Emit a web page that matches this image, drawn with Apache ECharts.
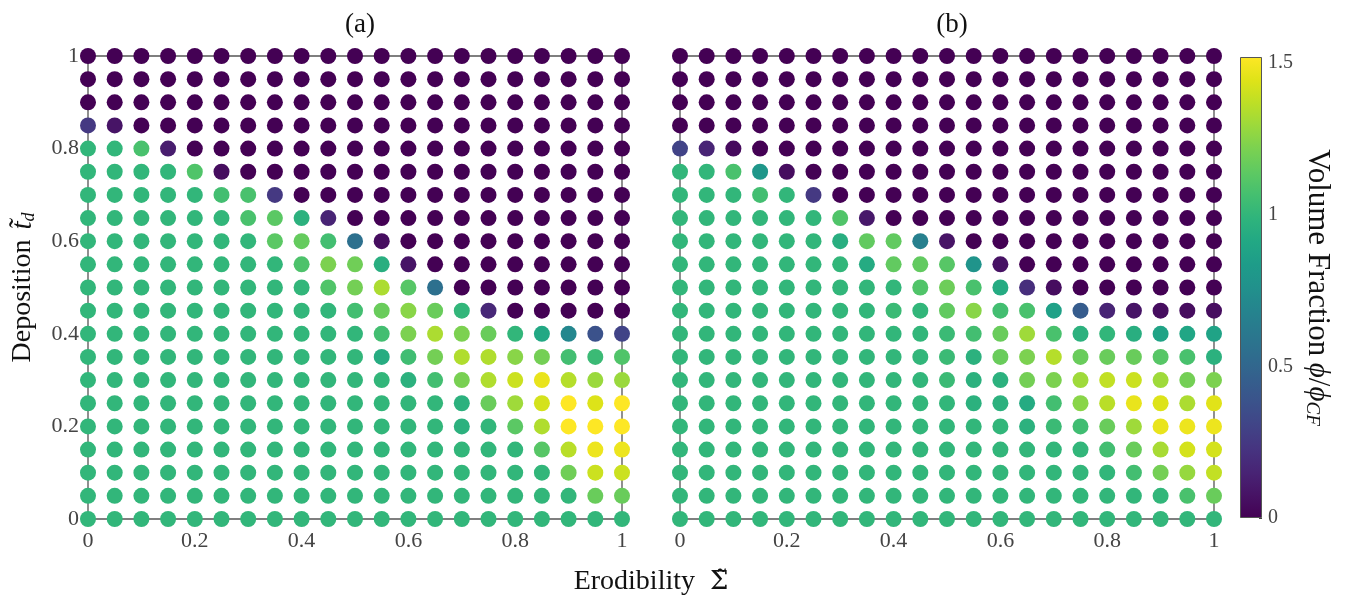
<!DOCTYPE html>
<html>
<head>
<meta charset="utf-8">
<title>Volume fraction maps</title>
<script src="https://cdn.jsdelivr.net/npm/echarts@6/dist/echarts.min.js"></script>
<style>
  html, body { margin: 0; background: #fff; }
  #chart { width: 1345px; height: 595px; }
</style>
</head>
<body>
<div id="chart"></div>
<script>
// grid points (same for both panels); rows of the matrices go from t=1 down to t=0
const erodibility = [0, 0.05, 0.1, 0.15, 0.2, 0.25, 0.3, 0.35, 0.4, 0.45, 0.5,
                     0.55, 0.6, 0.65, 0.7, 0.75, 0.8, 0.85, 0.9, 0.95, 1];
const deposition = [1, 0.95, 0.9, 0.85, 0.8, 0.75, 0.7, 0.65, 0.6, 0.55, 0.5,
                    0.45, 0.4, 0.35, 0.3, 0.25, 0.2, 0.15, 0.1, 0.05, 0];

// volume fraction phi/phi_CF, panel (a)
const phiA = [
  [0,0,0,0,0,0,0,0,0,0,0,0,0,0,0,0,0,0,0,0,0],
  [0,0,0,0,0,0,0,0,0,0,0,0,0,0,0,0,0,0,0,0,0],
  [0,0,0,0,0,0,0,0,0,0,0,0,0,0,0,0,0,0,0,0,0],
  [0.25,0.08,0,0,0,0,0,0,0,0,0,0,0,0,0,0,0,0,0,0,0],
  [1,1,1.08,0.12,0,0,0,0,0,0,0,0,0,0,0,0,0,0,0,0,0],
  [1,1,1,1,1.1,0.05,0,0,0,0,0,0,0,0,0,0,0,0,0,0,0],
  [1,1,1,1,1,1.06,1.08,0.25,0,0,0,0,0,0,0,0,0,0,0,0,0],
  [1,1,1,1,1,1,1.08,1.13,0.97,0.15,0,0,0,0,0,0,0,0,0,0,0],
  [1,1,1,1,1,1,1,1.13,1.16,1.06,0.56,0.05,0,0,0,0,0,0,0,0,0],
  [1,1,1,1,1,1,1,1,1.09,1.22,1.19,0.95,0.08,0,0,0,0,0,0,0,0],
  [1,1,1,1,1,1,1,1,1,1.1,1.2,1.33,1.12,0.56,0,0,0,0,0,0,0],
  [1,1,1,1,1,1,1,1,1,1,1.06,1.17,1.25,1.17,1,0.17,0,0,0,0,0],
  [1,1,1,1,1,1,1,1,1,1,1,1.06,1.22,1.33,1.22,1.17,1,0.91,0.7,0.38,0.3],
  [1,1,1,1,1,1,1,1,1,1,1,0.94,1.05,1.2,1.34,1.34,1.25,1.2,1.06,1.03,1.1],
  [1,1,1,1,1,1,1,1,1,1,1,1,0.97,1.06,1.21,1.34,1.4,1.47,1.35,1.29,1.29],
  [1,1,1,1,1,1,1,1,1,1,1,1,1,1,0.97,1.17,1.3,1.42,1.52,1.44,1.52],
  [1,1,1,1,1,1,1,1,1,1,1,1,1,1,0.97,1,1.13,1.34,1.52,1.52,1.52],
  [1,1,1,1,1,1,1,1,1,1,1,1,1,1,1,1,1,1.12,1.36,1.48,1.48],
  [1,1,1,1,1,1,1,1,1,1,1,1,1,1,1,1,1,1,1.19,1.4,1.4],
  [1,1,1,1,1,1,1,1,1,1,1,1,1,1,1,1,1,1,1,1.17,1.17],
  [1,1,1,1,1,1,1,1,1,1,1,1,1,1,1,1,1,1,1,1,1]
];

// volume fraction phi/phi_CF, panel (b)
const phiB = [
  [0,0,0,0,0,0,0,0,0,0,0,0,0,0,0,0,0,0,0,0,0],
  [0,0,0,0,0,0,0,0,0,0,0,0,0,0,0,0,0,0,0,0,0],
  [0,0,0,0,0,0,0,0,0,0,0,0,0,0,0,0,0,0,0,0,0],
  [0,0,0,0,0,0,0,0,0,0,0,0,0,0,0,0,0,0,0,0,0],
  [0.3,0.15,0.04,0,0,0,0,0,0,0,0,0,0,0,0,0,0,0,0,0,0],
  [1,1,1.08,0.8,0.05,0,0,0,0,0,0,0,0,0,0,0,0,0,0,0,0],
  [1,1,1,1.06,1,0.25,0,0,0,0,0,0,0,0,0,0,0,0,0,0,0],
  [1,1,1,1,1,1,1.1,0.1,0,0,0,0,0,0,0,0,0,0,0,0,0],
  [1,1,1,1,1,1,0.95,1.15,1.15,0.66,0.08,0,0,0,0,0,0,0,0,0,0],
  [1,1,1,1,1,1,1,0.93,1.15,1.15,1.12,0.78,0.07,0,0,0,0,0,0,0,0],
  [1,1,1,1,1,1,1,1,1,1.1,1.18,1.08,0.93,0.2,0.05,0,0,0,0,0,0],
  [1,1,1,1,1,1,1,1,1.03,1,1.15,1.25,1.06,1.08,0.87,0.44,0.15,0.08,0.05,0.05,0.05],
  [1,1,1,1,1,1,1,1,1,1,1.03,1.06,1.17,1.3,1.08,0.97,1,0.95,0.88,0.9,0.88],
  [1,1,1,1,1,1,1,1,1,1,1.03,0.97,1.17,1.22,1.35,1.17,1.17,1.17,1.12,1.08,0.97],
  [1,1,1,1,1,1,1,1,1,1,1.03,0.97,0.97,1.2,1.22,1.3,1.38,1.4,1.3,1.2,1.22],
  [1,1,1,1,1,1,1,1,1,1,1,0.97,0.97,0.93,1.06,1.25,1.36,1.47,1.44,1.33,1.45],
  [1,1,1,1,1,1,1,1,1,1,1,1,1,0.97,1.03,1.05,1.17,1.3,1.47,1.48,1.48],
  [1,1,1,1,1,1,1,1,1,1,1,1,1,1,1,1,1.06,1.17,1.32,1.42,1.42],
  [1,1,1,1,1,1,1,1,1,1,1,1,1,1,1,1,1,1.06,1.2,1.28,1.38],
  [1,1,1,1,1,1,1,1,1,1,1,1,1,1,1,1,1,1,1,1.08,1.17],
  [1,1,1,1,1,1,1,1,1,1,1,1,1,1,1,1,1,1,1,1,1]
];

const cbMax = 1.52;
const viridis = ['#440154','#471365','#482475','#463480','#414487','#3b528b','#355f8d',
  '#2f6c8e','#2a788e','#25848e','#21918c','#1e9c89','#22a884','#2fb47c','#44bf70',
  '#5ec962','#7ad151','#9bd93c','#bddf26','#dfe318','#fde725'];

function toPoints(mat) {
  const pts = [];
  deposition.forEach((t, r) => {
    erodibility.forEach((s, c) => pts.push([s, t, mat[r][c]]));
  });
  return pts;
}

const serif = 'Liberation Serif';
const tickStyle = { fontFamily: serif, fontSize: 22, color: '#444' };
function richSet(size) {
  return {
    a: { fontFamily: serif, fontSize: size, fontWeight: 'normal', color: '#111' },
    i: { fontFamily: serif, fontSize: size + 1, fontStyle: 'italic', fontWeight: 'normal', color: '#111' },
    s: { fontFamily: serif, fontSize: Math.round(size * 0.65), fontStyle: 'italic', fontWeight: 'normal',
         color: '#111', padding: [12, 0, 0, 0] },
    g: { fontFamily: 'DejaVu Serif', fontSize: size - 2, fontWeight: 'normal', color: '#111' }
  };
}

const chart = echarts.init(document.getElementById('chart'));

const gridBox = { show: true, borderColor: '#555', borderWidth: 1.3, backgroundColor: 'transparent' };

function valueAxis(gridIndex, showLabel, extra) {
  return Object.assign({
    type: 'value', gridIndex: gridIndex, min: 0, max: 1, interval: 0.2,
    axisLine: { show: false }, axisTick: { show: false }, splitLine: { show: false },
    axisLabel: Object.assign({ show: showLabel, margin: 9 }, tickStyle)
  }, extra || {});
}

chart.setOption({
  animation: false,
  title: [
    { text: '(a)', left: 355, top: 6, textAlign: 'center',
      textStyle: { fontFamily: serif, fontSize: 27, fontWeight: 'normal', color: '#111' } },
    { text: '(b)', left: 947, top: 6, textAlign: 'center',
      textStyle: { fontFamily: serif, fontSize: 27, fontWeight: 'normal', color: '#111' } },
    { text: '{a|Erodibility}   {g|\u03A3\u0303}', left: 646, top: 563, textAlign: 'center',
      textStyle: { fontWeight: 'normal', rich: richSet(28) } }
  ],
  grid: [
    Object.assign({ left: 88, top: 56, width: 534, height: 463 }, gridBox),
    Object.assign({ left: 680, top: 56, width: 534, height: 463 }, gridBox),
    { left: 1240, top: 57, width: 22, height: 461 }
  ],
  xAxis: [
    valueAxis(0, true, { axisLabel: Object.assign({ margin: 11 }, tickStyle) }),
    valueAxis(1, true, { axisLabel: Object.assign({ margin: 11 }, tickStyle) }),
    { type: 'category', gridIndex: 2, data: [''], show: false }
  ],
  yAxis: [
    valueAxis(0, true, {
      name: '{a|Deposition}   {i|t\u0303}{s|d}', nameLocation: 'middle', nameGap: 50, nameRotate: 90,
      nameTextStyle: { rich: richSet(28) }
    }),
    valueAxis(1, false),
    {
      type: 'value', gridIndex: 2, position: 'right', min: 0, max: cbMax, interval: 0.5,
      axisLine: { show: false }, splitLine: { show: false },
      axisTick: { show: true, inside: true, length: 3, lineStyle: { color: '#444' } },
      axisLabel: Object.assign({ margin: 6, showMaxLabel: false }, tickStyle, { fontSize: 20 }),
      name: '{a|Volume Fraction}  {i|\u03D5}{a|/}{i|\u03D5}{s|CF}', nameLocation: 'middle',
      nameGap: 40, nameRotate: -90, nameTextStyle: { rich: Object.assign(richSet(31), {
        i: { fontFamily: serif, fontSize: 29, fontStyle: 'italic', color: '#111' },
        s: { fontFamily: serif, fontSize: 19, fontStyle: 'italic', color: '#111', padding: [12, 0, 0, 0] }
      }) }
    }
  ],
  visualMap: {
    type: 'continuous', show: false, min: 0, max: cbMax, dimension: 2,
    seriesIndex: [0, 1], inRange: { color: viridis }
  },
  series: [
    { type: 'scatter', xAxisIndex: 0, yAxisIndex: 0, symbolSize: 16, clip: false,
      itemStyle: { opacity: 1 }, data: toPoints(phiA) },
    { type: 'scatter', xAxisIndex: 1, yAxisIndex: 1, symbolSize: 16, clip: false,
      itemStyle: { opacity: 1 }, data: toPoints(phiB) },
    { type: 'bar', xAxisIndex: 2, yAxisIndex: 2, barWidth: '100%', data: [cbMax],
      itemStyle: {
        borderColor: '#555', borderWidth: 1,
        color: new echarts.graphic.LinearGradient(0, 1, 0, 0,
          viridis.map((c, k) => ({ offset: k / (viridis.length - 1), color: c })))
      } }
  ]
});
</script>
</body>
</html>
